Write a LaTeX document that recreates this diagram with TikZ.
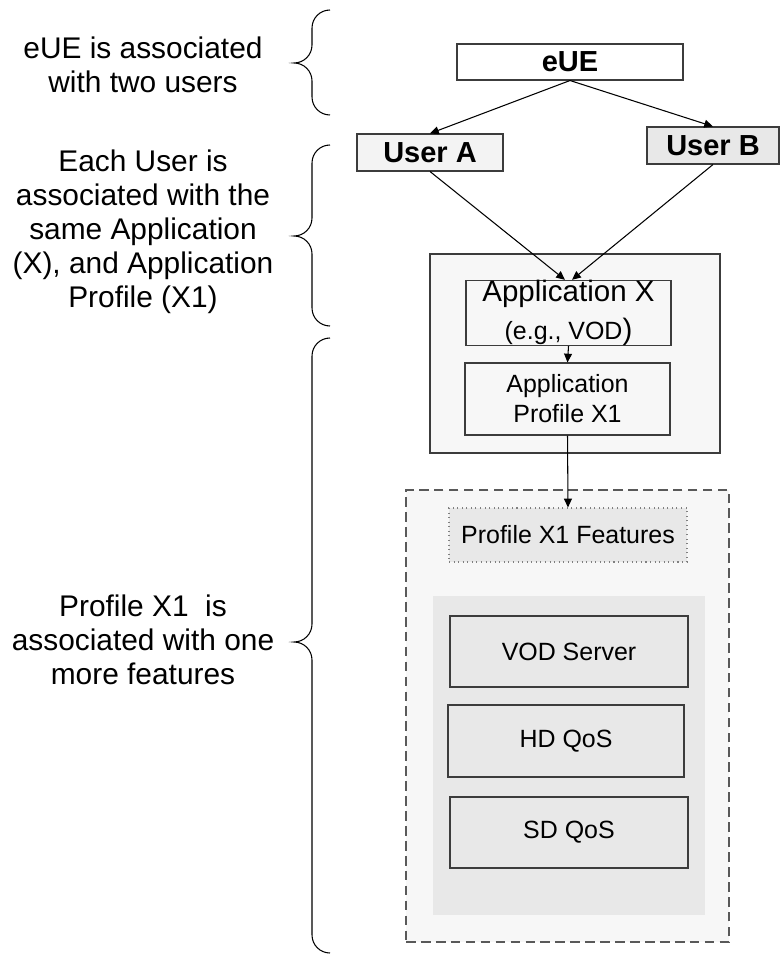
\documentclass[tikz,border=0pt]{standalone}
\usepackage{fontspec}
\setmainfont{Liberation Sans}
\usetikzlibrary{arrows.meta}
\usepackage{xcolor}

\definecolor{boxline}{HTML}{3C3C3C}
\definecolor{paleFill}{HTML}{F7F7F7}
\definecolor{userFill}{HTML}{F3F3F3}
\definecolor{greyFill}{HTML}{E8E8E8}

\tikzset{
  box/.style={draw=boxline,line width=0.6pt,inner sep=0pt,align=center},
  hd/.style={font=\bfseries\fontsize{16.5}{19}\selectfont},
  sm/.style={font=\fontsize{14.2}{17}\selectfont},
  lbl/.style={align=center,inner sep=0pt,font=\fontsize{17}{19.3}\selectfont}
}

\begin{document}
\begin{tikzpicture}[>={Triangle[length=5pt,width=4.5pt]},line width=0.6pt]
  \useasboundingbox (0,0) rectangle (15.6,-19.12);

  % left notes and braces
  \node[lbl] (TxUs) at (2.86,-1.30) {eUE is associated\\with two users};
  \node[lbl] (TxAp) at (2.86,-4.64) {Each User is\\associated with the\\same Application\\(X), and Application\\Profile (X1)};
  \node[lbl] (TxFe) at (2.86,-12.80) {Profile X1\ \ is\\associated with one\\more features};

  \foreach \t/\m/\b in {-0.20/-1.26/-2.30, -2.90/-4.72/-6.52, -6.76/-12.84/-19.06}
    \draw (6.6,\t) arc[start angle=90,end angle=180,radius=0.36]
      -- (6.24,{\m+0.36}) arc[start angle=0,end angle=-90,radius=0.36]
      arc[start angle=90,end angle=0,radius=0.36]
      -- (6.24,{\b+0.36}) arc[start angle=180,end angle=270,radius=0.36];

  % eUE and users
  \node[box,hd,fill=white,minimum width=4.52cm,minimum height=0.72cm] (eU) at (11.40,-1.24) {eUE};
  \node[box,hd,fill=userFill,minimum width=2.92cm,minimum height=0.74cm] (UsA) at (8.60,-3.05) {User A};
  \node[box,hd,fill=greyFill,minimum width=2.64cm,minimum height=0.74cm] (UsB) at (14.26,-2.91) {User B};
  \draw[->,draw=black] (eU.south) to (UsA.north);
  \draw[->,draw=black] (eU.south) to (UsB.north);

  % application
  \node[box,fill=paleFill,minimum width=5.80cm,minimum height=3.98cm] (ApBo) at (11.50,-7.07) {};
  \node[box,fill=paleFill,minimum width=4.10cm,minimum height=1.28cm,font=\fontsize{14.2}{21.5}\selectfont] (ApX) at (11.37,-6.26)
    {{\fontsize{16.8}{21.5}\selectfont Application X}\\(e.g., VOD{\fontsize{16.8}{21.5}\selectfont)}};
  \node[box,sm,fill=paleFill,minimum width=4.10cm,minimum height=1.44cm] (ApPr) at (11.35,-7.98) {Application\\Profile X1};
  \draw[->,draw=black] (UsA.south) to ([xshift=-0.07cm]ApX.north);
  \draw[->,draw=black] (UsB.south) to ([xshift=0.07cm]ApX.north);
  \draw[->,draw=black] (ApX.south) to (ApPr.north);

  % features
  \node[box,fill=paleFill,dash pattern=on 5.5pt off 3pt,draw=boxline!85,minimum width=6.46cm,minimum height=9.04cm] (FeBo) at (11.35,-14.32) {};
  \node[box,sm,fill=greyFill,dotted,draw=gray,minimum width=4.76cm,minimum height=1.08cm] (PrFe) at (11.36,-10.70) {Profile X1 Features};
  \node[fill=greyFill,inner sep=0pt,minimum width=5.44cm,minimum height=6.38cm] (FeLi) at (11.38,-15.11) {};
  \node[box,sm,fill=greyFill,minimum width=4.76cm,minimum height=1.42cm] (VoSe) at (11.38,-13.03) {VOD Server};
  \node[box,sm,fill=greyFill,minimum width=4.72cm,minimum height=1.44cm] (HdQo) at (11.32,-14.82) {HD QoS};
  \node[box,sm,fill=greyFill,minimum width=4.76cm,minimum height=1.42cm] (SdQo) at (11.38,-16.65) {SD QoS};
  \draw[->,draw=black] (ApPr.south) to (PrFe.north);

\end{tikzpicture}
\end{document}
